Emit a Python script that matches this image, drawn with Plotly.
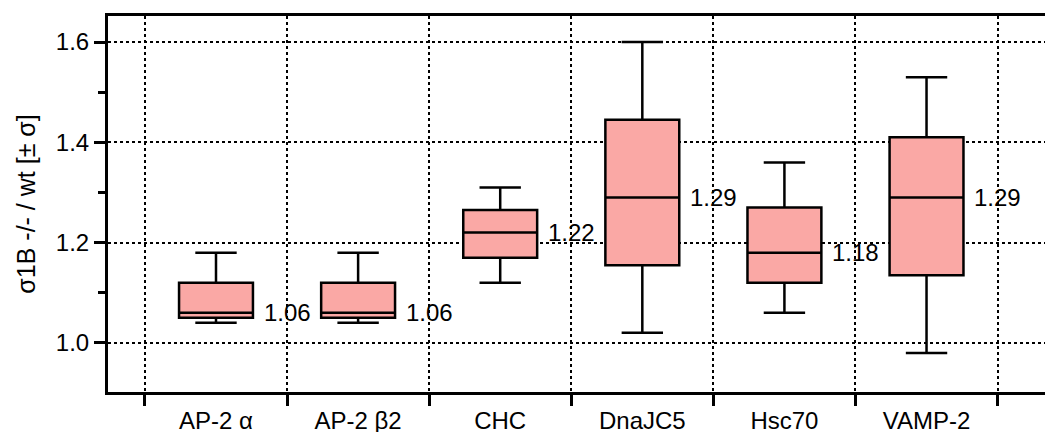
import plotly.graph_objects as go

categories = ["AP-2 α", "AP-2 β2", "CHC", "DnaJC5", "Hsc70", "VAMP-2"]
lower_whisker = [1.04, 1.04, 1.12, 1.02, 1.06, 0.98]
q1_values = [1.05, 1.05, 1.17, 1.155, 1.12, 1.135]
median_values = [1.06, 1.06, 1.22, 1.29, 1.18, 1.29]
q3_values = [1.12, 1.12, 1.265, 1.445, 1.27, 1.41]
upper_whisker = [1.18, 1.18, 1.31, 1.60, 1.36, 1.53]
median_labels = ["1.06", "1.06", "1.22", "1.29", "1.18", "1.29"]
y_tick_values = [1.0, 1.2, 1.4, 1.6]
y_title = "σ1B -/- / wt [± σ]"

FONT = "Liberation Sans, Arial, Helvetica, sans-serif"
BOX_W = 0.52
positions = list(range(len(categories)))
boundaries = [p - 0.5 for p in positions] + [positions[-1] + 0.5]

fig = go.Figure()
fig.add_trace(go.Box(
    x=positions,
    q1=q1_values,
    median=median_values,
    q3=q3_values,
    lowerfence=lower_whisker,
    upperfence=upper_whisker,
    width=BOX_W,
    whiskerwidth=0.56,
    fillcolor="#FAA8A5",
    line=dict(color="black", width=2.5),
    boxpoints=False,
    showlegend=False,
    hoverinfo="skip",
))

for p, m, lab in zip(positions, median_values, median_labels):
    fig.add_annotation(
        x=p + BOX_W / 2, y=m, xref="x", yref="y",
        text=lab, showarrow=False, xanchor="left", yanchor="middle",
        xshift=9, font=dict(family=FONT, size=24, color="black"),
    )

# page body has an 8px default margin, so the figure is offset by 8px
fig.update_layout(
    width=1045, height=424,
    margin=dict(l=100, r=0, t=8, b=40),
    paper_bgcolor="white", plot_bgcolor="white",
    font=dict(family=FONT, size=24, color="black"),
    xaxis=dict(
        range=[-0.76, 5.89],
        automargin=False,
        tickmode="array", tickvals=positions, ticktext=categories,
        ticks="outside", ticklen=5, tickcolor="rgba(0,0,0,0)",
        showgrid=False, zeroline=False,
        showline=True, linecolor="black", linewidth=3, mirror=True,
        tickfont=dict(family=FONT, size=24, color="black"),
        minor=dict(
            tickmode="array", tickvals=boundaries,
            ticks="outside", ticklen=11, tickwidth=2.5, tickcolor="black",
            showgrid=True, gridcolor="black", gridwidth=2, griddash="dot",
        ),
    ),
    yaxis=dict(
        range=[0.902, 1.652],
        automargin=False,
        tickmode="array", tickvals=y_tick_values,
        ticktext=[f"{v:.1f}" for v in y_tick_values],
        ticks="outside", ticklen=11, tickwidth=2.5, tickcolor="black",
        showgrid=True, gridcolor="black", gridwidth=2, griddash="dot",
        zeroline=False,
        showline=True, linecolor="black", linewidth=3,
        tickfont=dict(family=FONT, size=24, color="black"),
        title=dict(text=y_title, font=dict(family=FONT, size=25, color="black"), standoff=14),
        minor=dict(
            tickmode="linear", tick0=1.1, dtick=0.2,
            ticks="outside", ticklen=7, tickwidth=2.5, tickcolor="black",
            showgrid=False,
        ),
    ),
)

fig.write_html("out.html")
